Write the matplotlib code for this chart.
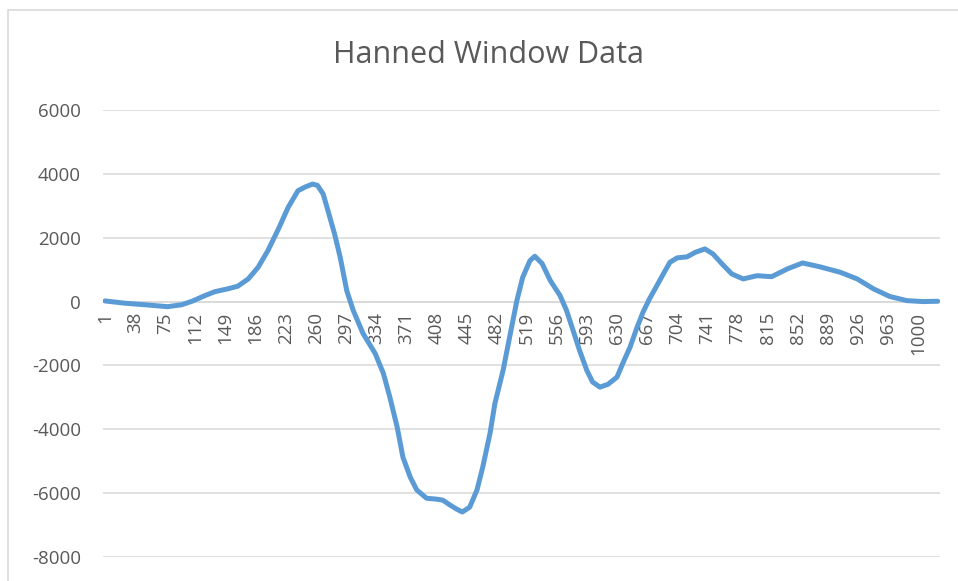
import matplotlib
matplotlib.use("Agg")
import matplotlib.pyplot as plt
from matplotlib.patches import Rectangle

# sample index (category number) and value
sample_idx = [
    1, 25, 50, 78, 95, 108, 124, 136, 152, 164, 177, 189, 201, 214, 226,
    238, 247, 256, 262, 269, 275, 283, 290, 298, 306, 318, 333, 343, 351,
    360, 367, 376, 384, 396, 409, 416, 425, 433, 440, 449, 458, 465, 474,
    480, 490, 498, 507, 514, 523, 529, 538, 548, 560, 568, 576, 584, 593,
    600, 609, 619, 630, 637, 646, 654, 662, 670, 679, 687, 695, 704, 716,
    726, 738, 748, 759, 771, 785, 802, 820, 839, 858, 879, 904, 925, 945,
    965, 986, 1006, 1024,
]
values = [
    20, -50, -100, -160, -100, 10, 190, 310, 400, 480, 710, 1070, 1590, 2270,
    2950, 3470, 3590, 3680, 3640, 3370, 2840, 2120, 1380, 340, -280, -1000,
    -1630, -2250, -3000, -3940, -4875, -5500, -5900, -6160, -6190, -6220,
    -6375, -6500, -6590, -6440, -5900, -5190, -4125, -3190, -2160, -1125, 30,
    750, 1280, 1420, 1190, 660, 190, -280, -900, -1530, -2160, -2520, -2680,
    -2590, -2365, -1940, -1430, -850, -330, 90, 500, 870, 1230, 1370, 1400,
    1540, 1650, 1490, 1180, 865, 710, 810, 780, 1020, 1210, 1090, 920, 710,
    400, 160, 30, 0, 10,
]
tick_labels = list(range(1, 1025, 37))
y_ticks = [-8000, -6000, -4000, -2000, 0, 2000, 4000, 6000]

W, H = 958, 581
fig = plt.figure(figsize=(W / 100, H / 100), dpi=100)
ax = fig.add_axes([103 / W, 1 - 557 / H, (940 - 103) / W, (557 - 110) / H])

# chart border like Excel's chart area
fig.patches.append(Rectangle((8 / W, -0.1), 1.2, 1 - 10 / H + 0.1,
                             transform=fig.transFigure, fill=False,
                             edgecolor="#D9D9D9", linewidth=1.2))

ax.plot(sample_idx, values, color="#5B9BD5", linewidth=3.6,
        solid_joinstyle="round", solid_capstyle="round", zorder=3)

ax.set_ylim(-8000, 6000)
ax.set_xlim(1 - 2 / 0.814, 1 + 835 / 0.814)
ax.set_yticks(y_ticks)
ax.set_yticklabels([str(v) for v in y_ticks])
ax.yaxis.grid(True, color="#D9D9D9", linewidth=1.1)
ax.set_axisbelow(True)
for s in ax.spines.values():
    s.set_visible(False)
ax.axhline(0, color="#D9D9D9", linewidth=1.1, zorder=1)

ax.tick_params(axis="y", length=0, pad=16, labelsize=13.5, labelcolor="#595959")
ax.set_xticks([])
for t in tick_labels:
    ax.text(t, -330, str(t), rotation=90, ha="center", va="top",
            fontsize=13.5, color="#595959", family="Open Sans", zorder=2)
for lbl in ax.get_yticklabels():
    lbl.set_family("Open Sans")

fig.text(488 / W, 1 - 55 / H, "Hanned Window Data", ha="center", va="center",
         fontsize=22, color="#595959", family="Open Sans")

fig.savefig("out.png", dpi=100)
